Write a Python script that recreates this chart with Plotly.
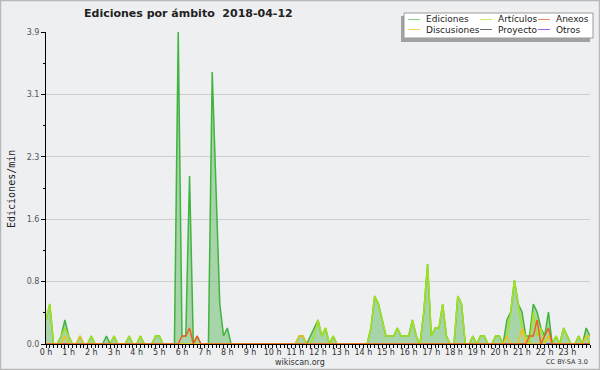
import plotly.graph_objects as go

# ---------------- data (10-minute bins, edits per minute) ----------------
minutes = list(range(0, 24 * 60 + 1, 10))  # 00:00 ... 24:00 (145 points)

ediciones = [
    0.3, 0.5, 0, 0, 0.1, 0.3,      # 0h
    0.1, 0, 0, 0.1, 0, 0,          # 1h
    0.1, 0, 0, 0, 0.1, 0,          # 2h
    0.1, 0, 0, 0, 0.1, 0,          # 3h
    0, 0.1, 0, 0, 0, 0.1,          # 4h
    0.1, 0, 0, 0, 0, 3.9,          # 5h
    0.1, 0.1, 2.1, 0, 0.1, 0,      # 6h
    0, 0, 3.4, 1.9, 0.5, 0.1,      # 7h
    0.2, 0, 0, 0, 0, 0,            # 8h
    0, 0, 0, 0, 0, 0,              # 9h
    0, 0, 0, 0, 0, 0,              # 10h
    0, 0.1, 0.1, 0, 0.1, 0.2,      # 11h
    0.3, 0.1, 0.2, 0, 0.1, 0,      # 12h
    0, 0, 0, 0, 0, 0,              # 13h
    0, 0, 0.2, 0.6, 0.5, 0.3,      # 14h
    0.1, 0.1, 0.1, 0.2, 0.1, 0.1,  # 15h
    0.1, 0.3, 0.1, 0, 0.4, 1.0,    # 16h
    0.1, 0.2, 0.2, 0.5, 0.1, 0,    # 17h
    0, 0.6, 0.5, 0, 0, 0.1,        # 18h
    0, 0.1, 0.1, 0, 0, 0.1,        # 19h
    0.1, 0, 0.3, 0.4, 0.8, 0.5,    # 20h
    0.4, 0.1, 0.1, 0.5, 0.4, 0.2,  # 21h
    0.1, 0.4, 0, 0.1, 0, 0.2,      # 22h
    0.1, 0, 0, 0.1, 0, 0.2,        # 23h
    0.1,
]

articulos = [
    0.3, 0.5, 0, 0, 0.1, 0.2,
    0.1, 0, 0, 0, 0, 0,
    0.1, 0, 0, 0, 0, 0,
    0.1, 0, 0, 0, 0.1, 0,
    0, 0.1, 0, 0, 0, 0.1,
    0.1, 0, 0, 0, 0, 0,
    0, 0, 0, 0, 0, 0,
    0, 0, 0, 0, 0, 0,
    0, 0, 0, 0, 0, 0,
    0, 0, 0, 0, 0, 0,
    0, 0, 0, 0, 0, 0,
    0, 0, 0, 0, 0, 0.1,
    0.3, 0.1, 0.2, 0, 0.1, 0,
    0, 0, 0, 0, 0, 0,
    0, 0, 0.2, 0.6, 0.5, 0.3,
    0.1, 0.1, 0.1, 0.2, 0.1, 0.1,
    0.1, 0.3, 0.1, 0, 0.4, 1.0,
    0.1, 0.2, 0.2, 0.5, 0.1, 0,
    0, 0.6, 0.5, 0, 0, 0.1,
    0, 0.1, 0.1, 0, 0, 0.1,
    0.1, 0, 0.1, 0.4, 0.8, 0.5,
    0.2, 0.1, 0, 0.4, 0.1, 0.2,
    0, 0.1, 0, 0.1, 0, 0.2,
    0.1, 0, 0, 0.1, 0, 0.1,
    0,
]

anexos = [0] * 36 + [0.1, 0.1, 0.2, 0, 0.1, 0] + [0] * 84 + \
    [0, 0, 0.1, 0.1, 0.3, 0] + [0.1, 0.2, 0, 0, 0, 0] + [0] * 7

discusiones = [
    0, 0, 0, 0, 0, 0.1,
    0, 0, 0, 0.1, 0, 0,
] + [0] * 54 + [
    0, 0.1, 0.1, 0, 0, 0,
] + [0] * 48 + [
    0, 0, 0.1, 0, 0, 0,
    0.2, 0, 0, 0, 0, 0,
    0, 0.1, 0, 0, 0, 0,
    0, 0, 0, 0, 0, 0.1,
    0.1,
]

proyecto = [0] * 145
otros = [0] * 145

hour_ticks = list(range(24))
hour_labels = [f"{h} h" for h in hour_ticks]
y_max = 3.9
y_tick_labels = ["0.0", "0.8", "1.6", "2.3", "3.1", "3.9"]

series_names = ["Ediciones", "Artículos", "Anexos", "Discusiones", "Proyecto", "Otros"]
series_colors = ["#3fb43f", "#a6e21c", "#f0601e", "#f2c21a", "#5a5a5a", "#9a44e6"]
legend_colors = ["#86d486", "#c9ef6a", "#f4865a", "#f6d860", "#6a6a6a", "#a860ee"]

# ---------------- layout geometry ----------------
W, H = 600, 370
L, R, T, B = 46, 10, 32, 26
PW, PH = W - L - R, H - T - B
BG = "#eeeff1"


def px(x):
    return (x - L) / PW


def py(y):
    return (H - B - y) / PH


x_hours = [m / 60 for m in minutes]

fig = go.Figure()

fig.add_trace(go.Scatter(
    x=x_hours, y=ediciones, mode="lines", name="Ediciones",
    line=dict(color=series_colors[0], width=1.5),
    fill="tozeroy", fillcolor="rgba(110,190,110,0.55)", showlegend=False,
))
for name, data, col in [
    ("Proyecto", proyecto, series_colors[4]),
    ("Otros", otros, series_colors[5]),
    ("Artículos", articulos, series_colors[1]),
    ("Discusiones", discusiones, series_colors[3]),
    ("Anexos", anexos, series_colors[2]),
]:
    fig.add_trace(go.Scatter(
        x=x_hours, y=data, mode="lines", name=name,
        line=dict(color=col, width=1.5), showlegend=False,
    ))

shapes = []
annotations = []

# outer frame
shapes.append(dict(type="rect", xref="paper", yref="paper",
                   x0=px(0.5), x1=px(599.5), y0=py(369.5), y1=py(0.5),
                   line=dict(color="#b9b9b9", width=1.5), layer="above"))

# legend box (shadow + box)
shapes.append(dict(type="rect", xref="paper", yref="paper",
                   x0=px(401), x1=px(590), y0=py(42), y1=py(16),
                   fillcolor="#a2a2a2", line=dict(width=0), layer="above"))
shapes.append(dict(type="rect", xref="paper", yref="paper",
                   x0=px(404), x1=px(593), y0=py(38), y1=py(13),
                   fillcolor="#ffffff", line=dict(color="#9a9a9a", width=1), layer="above"))

cols_x = [408, 480, 538]
rows_y = [19.5, 29.5]
order = [(0, 0, 0), (1, 0, 1), (2, 0, 2), (3, 1, 0), (4, 1, 1), (5, 1, 2)]
for idx, r, c in order:
    x0 = cols_x[c]
    yy = rows_y[r]
    shapes.append(dict(type="line", xref="paper", yref="paper",
                       x0=px(x0), x1=px(x0 + 12), y0=py(yy), y1=py(yy),
                       line=dict(color=legend_colors[idx], width=1), layer="above"))
    annotations.append(dict(xref="paper", yref="paper", x=px(x0 + 16), y=py(yy),
                            xanchor="left", yanchor="middle", showarrow=False,
                            text=series_names[idx],
                            font=dict(family="DejaVu Sans", size=9, color="#222222")))

# title
annotations.append(dict(xref="paper", yref="paper", x=px(188), y=py(14),
                        xanchor="center", yanchor="middle", showarrow=False,
                        text="<b>Ediciones por ámbito \u00a02018-04-12</b>",
                        font=dict(family="DejaVu Sans", size=11, color="#222222")))
# y title
annotations.append(dict(xref="paper", yref="paper", x=px(11), y=py(189),
                        xanchor="center", yanchor="middle", showarrow=False,
                        textangle=-90, text="Ediciones/min",
                        font=dict(family="DejaVu Sans Mono", size=10, color="#222222")))
# footer
annotations.append(dict(xref="paper", yref="paper", x=px(300), y=py(362),
                        xanchor="center", yanchor="middle", showarrow=False,
                        text="wikiscan.org",
                        font=dict(family="DejaVu Sans", size=8, color="#333333")))
annotations.append(dict(xref="paper", yref="paper", x=px(590), y=py(362),
                        xanchor="right", yanchor="middle", showarrow=False,
                        text="CC BY-SA 3.0",
                        font=dict(family="DejaVu Sans", size=6.5, color="#333333")))

y_ticks = [y_max * k / 5 for k in range(6)]
y_minor = [y_max * k / 10 for k in range(1, 10, 2)]

fig.update_layout(
    width=W, height=H,
    margin=dict(l=L, r=R, t=T, b=B, pad=0),
    paper_bgcolor=BG, plot_bgcolor=BG,
    showlegend=False,
    shapes=shapes, annotations=annotations,
    xaxis=dict(
        range=[0, 24], showgrid=False, zeroline=False,
        showline=True, linecolor="#000000", linewidth=1,
        ticks="outside", ticklen=3, tickcolor="#000000", tickwidth=1,
        tickvals=hour_ticks, ticktext=hour_labels,
        tickfont=dict(family="DejaVu Sans", size=8, color="#333333"),
        ticklabelstandoff=-3,
        minor=dict(tickvals=[m / 60 for m in minutes], ticks="outside",
                   ticklen=3, tickcolor="#000000", tickwidth=1, showgrid=False),
        layer="above traces", fixedrange=True,
    ),
    yaxis=dict(
        range=[0, y_max], showgrid=True, gridcolor="#cfcfcf", gridwidth=1,
        zeroline=False, showline=True, linecolor="#000000", linewidth=1,
        ticks="outside", ticklen=4, tickcolor="#000000", tickwidth=1,
        tickvals=y_ticks, ticktext=y_tick_labels,
        tickfont=dict(family="DejaVu Sans", size=8, color="#555555"),
        minor=dict(tickvals=y_minor, ticks="outside", ticklen=2,
                   tickcolor="#000000", tickwidth=1, showgrid=False),
        layer="above traces", fixedrange=True,
    ),
)

fig.write_html("out.html")
